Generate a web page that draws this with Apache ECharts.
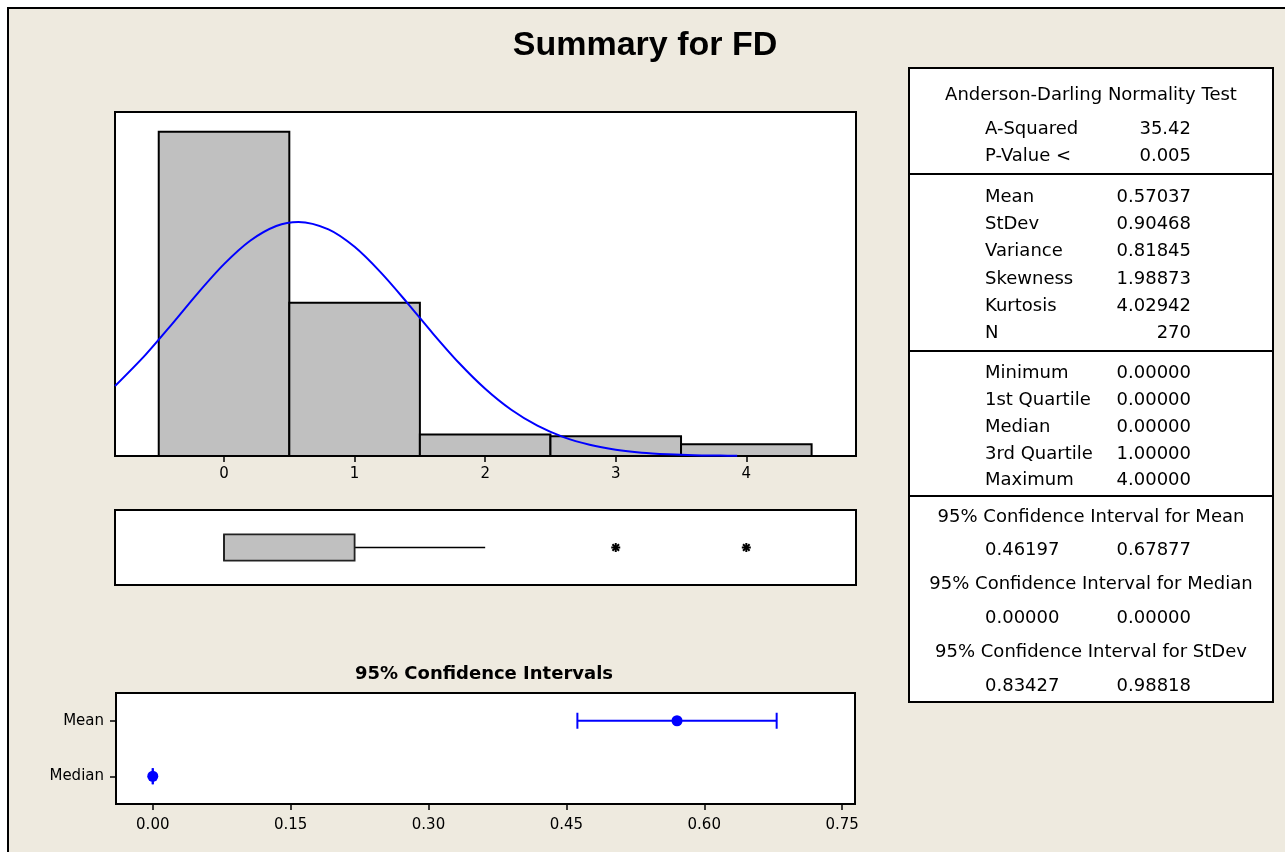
<!DOCTYPE html>
<html>
<head>
<meta charset="utf-8">
<script src="https://cdn.jsdelivr.net/npm/echarts@6/dist/echarts.min.js"></script>
<style>
html,body{margin:0;padding:0;background:#fff;}
#chart{width:1285px;height:852px;}
</style>
</head>
<body>
<div id="chart"></div>
<script>
// ---------- data ----------
const binCenters = [0, 1, 2, 3, 4];
const binCounts = [165, 78, 11, 10, 6];
const binWidth = 1;
const histTicks = [0, 1, 2, 3, 4];
// fitted normal curve
const curveX = [-0.835, -0.6, -0.4, -0.2, 0, 0.2, 0.4, 0.57, 0.8, 1.0, 1.2, 1.4, 1.6, 1.8, 2.0, 2.2, 2.4, 2.6, 2.8, 3.0, 3.2, 3.4, 3.6, 3.8, 3.93];
const curveY = [35.6, 51.6, 67.0, 82.9, 97.6, 109.5, 117.0, 119.1, 115.3, 106.4, 93.4, 78.2, 62.3, 47.3, 34.2, 23.5, 15.4, 9.6, 5.7, 3.2, 1.7, 0.9, 0.4, 0.2, 0.1];
// boxplot: low whisker, Q1, median, Q3, high whisker
const boxStats = [0, 0, 0, 1, 2];
const outliers = [3, 4];
// confidence intervals: [low, estimate, high]
const ciCategories = ['Median', 'Mean'];
const ciMedian = [0.0, 0.0, 0.0];
const ciMean = [0.46197, 0.57037, 0.67877];
const ciTicks = [0.00, 0.15, 0.30, 0.45, 0.60, 0.75];
// summary table
const adLabels = ['A-Squared', 'P-Value <'];
const adValues = ['35.42', '0.005'];
const momentLabels = ['Mean', 'StDev', 'Variance', 'Skewness', 'Kurtosis', 'N'];
const momentValues = ['0.57037', '0.90468', '0.81845', '1.98873', '4.02942', '270'];
const quantLabels = ['Minimum', '1st Quartile', 'Median', '3rd Quartile', 'Maximum'];
const quantValues = ['0.00000', '0.00000', '0.00000', '1.00000', '4.00000'];
const ciHeaders = ['95% Confidence Interval for Mean', '95% Confidence Interval for Median', '95% Confidence Interval for StDev'];
const ciLows = ['0.46197', '0.00000', '0.83427'];
const ciHighs = ['0.67877', '0.00000', '0.98818'];

// ---------- chart ----------
const FONT = '"DejaVu Sans", Verdana, sans-serif';
const chart = echarts.init(document.getElementById('chart'), null, {renderer: 'canvas'});

const BLUE = '#0000FF';
const graphics = [];
// outer frame
graphics.push({type: 'rect', shape: {x: 0, y: 0, width: 1285, height: 8}, style: {fill: '#fff'}, silent: true});
graphics.push({type: 'rect', shape: {x: 0, y: 0, width: 8, height: 852}, style: {fill: '#fff'}, silent: true});
graphics.push({type: 'polyline', shape: {points: [[8, 860], [8, 8], [1290, 8]]}, style: {stroke: '#000', lineWidth: 2, fill: null}, silent: true});
// titles
graphics.push({type: 'text', x: 645, y: 46, style: {text: 'Summary for FD', font: 'bold 34px "Liberation Sans", Arial, sans-serif', fill: '#000', align: 'center', verticalAlign: 'middle'}});
graphics.push({type: 'text', x: 484, y: 674, style: {text: '95% Confidence Intervals', font: 'bold 18px ' + FONT, fill: '#000', align: 'center', verticalAlign: 'middle'}});
// table frame
const TX = 909, TW = 364, TY = 68, TH = 634;
graphics.push({type: 'rect', shape: {x: TX, y: TY, width: TW, height: TH}, style: {fill: '#fff', stroke: '#000', lineWidth: 2}});
[174, 351, 496].forEach(function (y) {
  graphics.push({type: 'line', shape: {x1: TX, y1: y, x2: TX + TW, y2: y}, style: {stroke: '#000', lineWidth: 2}});
});
const TF = '18px ' + FONT;
const LX = 985, RX = 1191, CX = 1091;
function txt(s, x, y, align) {
  graphics.push({type: 'text', x: x, y: y, z: 10, style: {text: s, font: TF, fill: '#000', align: align, verticalAlign: 'middle'}});
}
txt('Anderson-Darling Normality Test', CX, 95, 'center');
adLabels.forEach(function (l, i) { txt(l, LX, 129 + i * 27.5, 'left'); txt(adValues[i], RX, 129 + i * 27.5, 'right'); });
momentLabels.forEach(function (l, i) { txt(l, LX, 197 + i * 27.3, 'left'); txt(momentValues[i], RX, 197 + i * 27.3, 'right'); });
quantLabels.forEach(function (l, i) { txt(l, LX, 373.5 + i * 26.8, 'left'); txt(quantValues[i], RX, 373.5 + i * 26.8, 'right'); });
ciHeaders.forEach(function (h, i) {
  const y0 = 517 + i * 67.8;
  txt(h, CX, y0, 'center');
  txt(ciLows[i], LX, y0 + 33.5, 'left');
  txt(ciHighs[i], RX, y0 + 33.5, 'right');
});

const gridStyle = {show: true, backgroundColor: '#fff', borderColor: '#000', borderWidth: 2};
const labelStyle = {color: '#000', fontFamily: FONT, fontSize: 15};

const option = {
  backgroundColor: '#EEEADF',
  animation: false,
  graphic: {elements: graphics},
  grid: [
    Object.assign({left: 115, top: 112, width: 741, height: 344}, gridStyle),
    Object.assign({left: 115, top: 510, width: 741, height: 75}, gridStyle),
    Object.assign({left: 116, top: 693, width: 739, height: 111}, gridStyle)
  ],
  xAxis: [
    {type: 'value', gridIndex: 0, min: -0.835, max: 4.84, splitLine: {show: false},
     axisLine: {show: false, onZero: false},
     axisTick: {show: true, length: 6, lineStyle: {color: '#000', width: 1.5}, customValues: histTicks},
     axisLabel: Object.assign({margin: 11, customValues: histTicks}, labelStyle)},
    {type: 'value', gridIndex: 1, min: -0.835, max: 4.84, show: false, splitLine: {show: false}},
    {type: 'value', gridIndex: 2, min: -0.04, max: 0.764, splitLine: {show: false},
     axisLine: {show: false, onZero: false},
     axisTick: {show: true, length: 6, lineStyle: {color: '#000', width: 1.5}, customValues: ciTicks},
     axisLabel: Object.assign({margin: 14, customValues: ciTicks, formatter: function (v) { return v.toFixed(2); }}, labelStyle)}
  ],
  yAxis: [
    {type: 'value', gridIndex: 0, min: 0, max: 175, show: false, splitLine: {show: false}},
    {type: 'category', gridIndex: 1, data: ['FD'], show: false},
    {type: 'category', gridIndex: 2, data: ciCategories, splitLine: {show: false},
     axisLine: {show: false, onZero: false},
     axisTick: {show: true, length: 6, alignWithLabel: true, lineStyle: {color: '#000', width: 1.5}},
     axisLabel: Object.assign({margin: 12}, labelStyle)}
  ],
  series: [
    {
      type: 'custom', xAxisIndex: 0, yAxisIndex: 0, z: 2,
      data: binCenters.map(function (c, i) { return [c, binCounts[i]]; }),
      renderItem: function (params, api) {
        const c = api.value(0), n = api.value(1);
        const p0 = api.coord([c - binWidth / 2, n]);
        const p1 = api.coord([c + binWidth / 2, 0]);
        return {type: 'rect', shape: {x: p0[0], y: p0[1], width: p1[0] - p0[0], height: p1[1] - p0[1]},
                style: {fill: '#C0C0C0', stroke: '#000', lineWidth: 2}};
      }
    },
    {
      type: 'line', xAxisIndex: 0, yAxisIndex: 0, z: 5, smooth: 0.3, showSymbol: false, clip: true,
      data: curveX.map(function (x, i) { return [x, curveY[i]]; }),
      lineStyle: {color: BLUE, width: 2}
    },
    {
      type: 'custom', xAxisIndex: 1, yAxisIndex: 1,
      data: [boxStats],
      renderItem: function (params, api) {
        const lo = api.value(0), q1 = api.value(1), md = api.value(2), q3 = api.value(3), hi = api.value(4);
        const y = api.coord([q1, 0])[1];
        const h = api.size([0, 1])[1] * 0.35;
        const pLo = api.coord([lo, 0]), pQ1 = api.coord([q1, 0]), pMd = api.coord([md, 0]), pQ3 = api.coord([q3, 0]), pHi = api.coord([hi, 0]);
        return {type: 'group', children: [
          {type: 'line', shape: {x1: pLo[0], y1: y, x2: pQ1[0], y2: y}, style: {stroke: '#000', lineWidth: 1.6}},
          {type: 'line', shape: {x1: pQ3[0], y1: y, x2: pHi[0], y2: y}, style: {stroke: '#000', lineWidth: 1.6}},
          {type: 'rect', shape: {x: pQ1[0], y: y - h / 2, width: pQ3[0] - pQ1[0], height: h}, style: {fill: '#C0C0C0', stroke: '#222', lineWidth: 1.8}},
          {type: 'line', shape: {x1: pMd[0], y1: y - h / 2, x2: pMd[0], y2: y + h / 2}, style: {stroke: '#222', lineWidth: 1.8}}
        ]};
      }
    },
    {
      type: 'custom', xAxisIndex: 1, yAxisIndex: 1,
      data: outliers.map(function (v) { return [v, 0]; }),
      renderItem: function (params, api) {
        const p = api.coord([api.value(0), 0]);
        const r = 4.5, d = 3.3;
        const st = {stroke: '#000', lineWidth: 2};
        return {type: 'group', children: [
          {type: 'line', shape: {x1: p[0], y1: p[1] - r, x2: p[0], y2: p[1] + r}, style: st},
          {type: 'line', shape: {x1: p[0] - d, y1: p[1] - d, x2: p[0] + d, y2: p[1] + d}, style: st},
          {type: 'line', shape: {x1: p[0] - d, y1: p[1] + d, x2: p[0] + d, y2: p[1] - d}, style: st},
          {type: 'line', shape: {x1: p[0] - r, y1: p[1], x2: p[0] + r, y2: p[1]}, style: st}
        ]};
      }
    },
    {
      type: 'custom', xAxisIndex: 2, yAxisIndex: 2,
      data: [[ciMedian[0], ciMedian[1], ciMedian[2], 0], [ciMean[0], ciMean[1], ciMean[2], 1]],
      renderItem: function (params, api) {
        const lo = api.coord([api.value(0), api.value(3)]);
        const est = api.coord([api.value(1), api.value(3)]);
        const hi = api.coord([api.value(2), api.value(3)]);
        const c = 8;
        const st = {stroke: BLUE, lineWidth: 2};
        return {type: 'group', children: [
          {type: 'line', shape: {x1: lo[0], y1: lo[1], x2: hi[0], y2: hi[1]}, style: st},
          {type: 'line', shape: {x1: lo[0], y1: lo[1] - c, x2: lo[0], y2: lo[1] + c}, style: st},
          {type: 'line', shape: {x1: hi[0], y1: hi[1] - c, x2: hi[0], y2: hi[1] + c}, style: st},
          {type: 'circle', shape: {cx: est[0], cy: est[1], r: 5.5}, style: {fill: BLUE}}
        ]};
      }
    }
  ]
};
chart.setOption(option);
</script>
</body>
</html>
